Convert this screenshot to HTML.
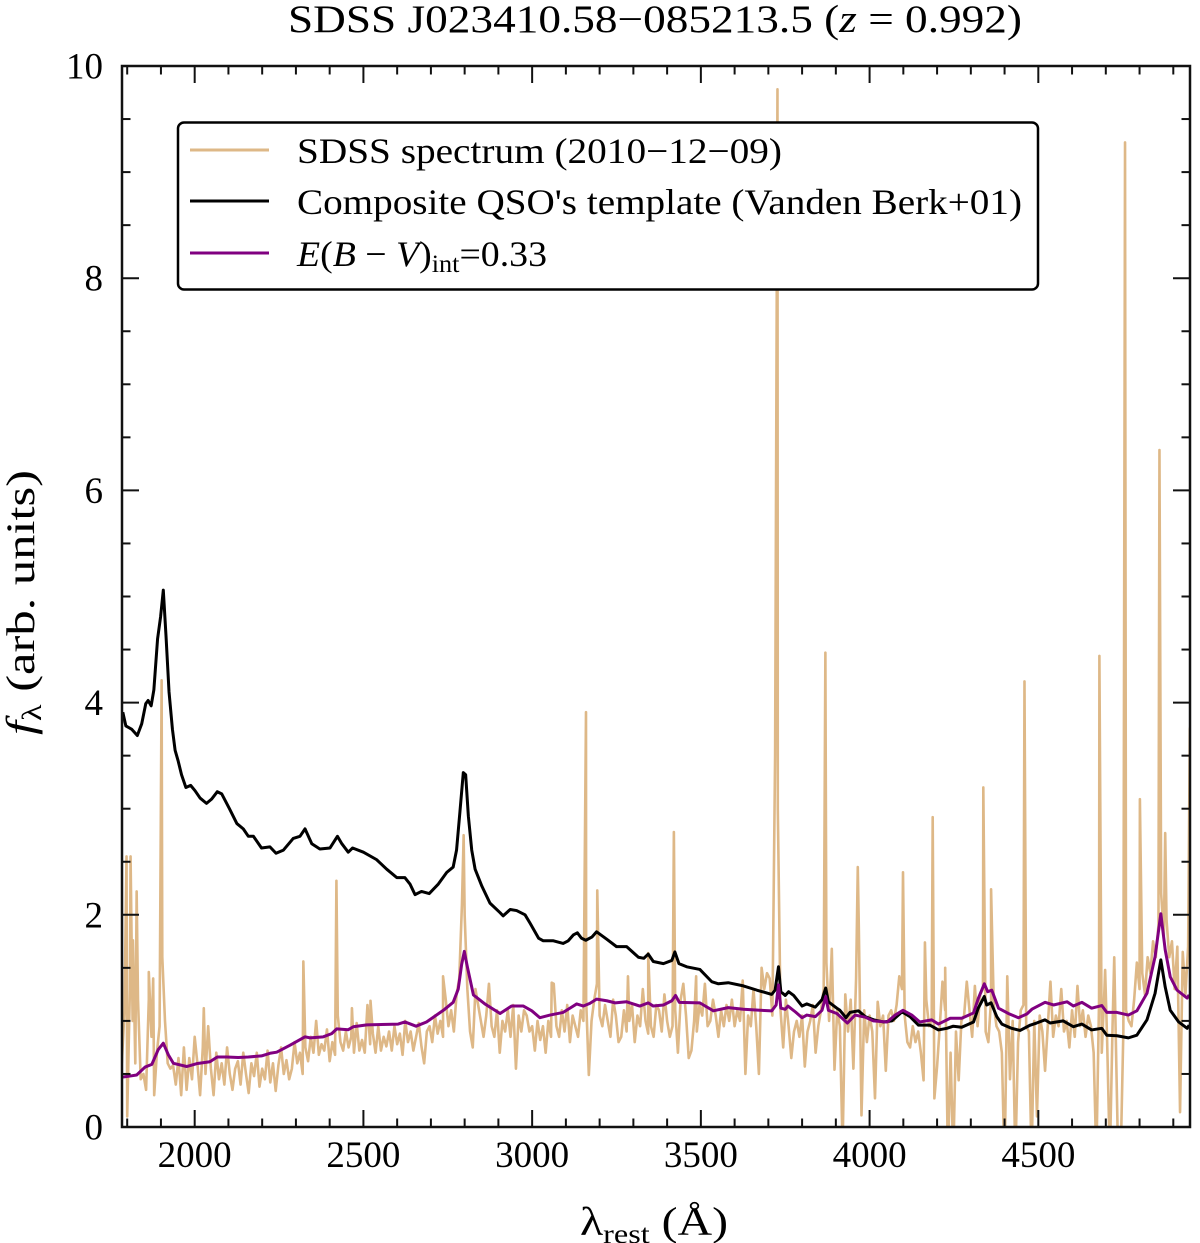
<!DOCTYPE html>
<html>
<head>
<meta charset="utf-8">
<title>SDSS J023410.58−085213.5 spectrum</title>
<style>
html,body{margin:0;padding:0;background:#fff;}
svg{display:block;position:absolute;left:0;top:0;}
text{font-family:"Liberation Serif","DejaVu Serif",serif;fill:#000;}
</style>
</head>
<body>
<svg id="chart" xmlns="http://www.w3.org/2000/svg" width="1200" height="1243" viewBox="0 0 1200 1243">
  <defs><clipPath id="plot-clip"><rect x="122" y="66" width="1068" height="1061"/></clipPath></defs>
  <rect x="0" y="0" width="1200" height="1243" fill="#fff"/>
  <g id="series-layer" clip-path="url(#plot-clip)"></g>
  <g id="tick-layer"></g>
  <rect x="122" y="66" width="1068" height="1061" fill="none" stroke="#111" stroke-width="2.5"/>
  <text x="288" y="32" font-size="39" textLength="734" lengthAdjust="spacingAndGlyphs">SDSS J023410.58−085213.5 (<tspan font-style="italic">z</tspan> = 0.992)</text>
  <text x="580" y="1235" font-size="40" textLength="148" lengthAdjust="spacingAndGlyphs">λ<tspan font-size="27" dy="8">rest</tspan><tspan dy="-8"> (Å)</tspan></text>
  <text transform="translate(34,735) rotate(-90)" x="0" y="0" font-size="40" textLength="265" lengthAdjust="spacingAndGlyphs"><tspan font-style="italic">f</tspan><tspan font-size="27" dy="7">λ</tspan><tspan dy="-7"> (arb. units)</tspan></text>
  <g>
    <rect x="178" y="122.5" width="860" height="167" rx="6" ry="6" fill="#fff" stroke="#000" stroke-width="2.5"/>
    <line x1="190" x2="269" y1="150" y2="150" stroke="#deb887" stroke-width="3"/>
    <text x="297" y="163" font-size="36" textLength="485" lengthAdjust="spacingAndGlyphs">SDSS spectrum (2010−12−09)</text>
    <line x1="190" x2="269" y1="201" y2="201" stroke="#000" stroke-width="3"/>
    <text x="297" y="214" font-size="36" textLength="725" lengthAdjust="spacingAndGlyphs">Composite QSO's template (Vanden Berk+01)</text>
    <line x1="190" x2="269" y1="253" y2="253" stroke="#800080" stroke-width="3"/>
    <text x="297" y="266" font-size="36" textLength="250" lengthAdjust="spacingAndGlyphs"><tspan font-style="italic">E</tspan>(<tspan font-style="italic">B</tspan> − <tspan font-style="italic">V</tspan>)<tspan font-size="25" dy="6">int</tspan><tspan dy="-6">=0.33</tspan></text>
  </g>
</svg>
<script>
var xMajorTicks = [2000, 2500, 3000, 3500, 4000, 4500];
var xTickLabels = ["2000", "2500", "3000", "3500", "4000", "4500"];
var yMajorTicks = [0, 2, 4, 6, 8, 10];
var yTickLabels = ["0", "2", "4", "6", "8", "10"];
var xMinorTicks = [1800,1900,2100,2200,2300,2400,2600,2700,2800,2900,3100,3200,3300,3400,3600,3700,3800,3900,4100,4200,4300,4400,4600,4700,4800,4900];
var yMinorTicks = [0.5,1,1.5,2.5,3,3.5,4.5,5,5.5,6.5,7,7.5,8.5,9,9.5];
var xLimits = [1784.6, 4949.5];
var yLimits = [0, 10];

var templateWave = [1787,1796,1813,1830,1843,1855,1862,1871,1879,1890,1899,1907,1915,1924,1934,1942,1951,1961,1974,1988,2001,2016,2035,2050,2067,2080,2103,2125,2144,2159,2174,2198,2223,2241,2263,2292,2312,2327,2347,2371,2401,2423,2436,2455,2468,2500,2539,2569,2599,2623,2638,2653,2672,2695,2722,2747,2766,2776,2786,2796,2803,2811,2821,2831,2851,2875,2905,2914,2935,2954,2979,2994,3019,3033,3063,3092,3107,3122,3134,3146,3159,3177,3191,3221,3250,3280,3315,3331,3344,3359,3389,3414,3423,3435,3458,3497,3532,3552,3581,3626,3666,3710,3720,3730,3737,3750,3760,3775,3800,3814,3839,3859,3870,3878,3903,3912,3930,3942,3967,3987,4012,4041,4066,4096,4120,4145,4179,4204,4229,4248,4273,4308,4322,4340,4347,4360,4377,4392,4421,4446,4476,4495,4520,4535,4574,4604,4629,4658,4688,4703,4733,4767,4792,4822,4846,4863,4876,4891,4916,4941,4947];
var templateFlux = [3.91,3.78,3.75,3.69,3.80,3.99,4.02,3.97,4.12,4.60,4.81,5.06,4.63,4.10,3.75,3.55,3.45,3.32,3.20,3.22,3.17,3.10,3.05,3.09,3.16,3.14,3.00,2.86,2.81,2.74,2.74,2.63,2.64,2.58,2.61,2.72,2.74,2.81,2.67,2.62,2.63,2.74,2.67,2.59,2.63,2.59,2.52,2.43,2.35,2.35,2.29,2.19,2.22,2.20,2.29,2.40,2.45,2.61,2.97,3.34,3.32,2.93,2.61,2.43,2.27,2.11,2.02,1.99,2.05,2.04,2.00,1.92,1.78,1.755,1.755,1.73,1.755,1.81,1.83,1.78,1.76,1.79,1.84,1.77,1.70,1.70,1.60,1.59,1.63,1.56,1.54,1.57,1.65,1.54,1.51,1.485,1.37,1.35,1.36,1.33,1.29,1.25,1.29,1.51,1.275,1.24,1.275,1.24,1.14,1.16,1.13,1.20,1.31,1.18,1.12,1.10,1.03,1.08,1.095,1.04,1.01,0.99,1.00,1.085,1.04,0.96,0.96,0.915,0.93,0.95,0.94,0.99,1.12,1.23,1.15,1.17,1.04,0.97,0.93,0.91,0.96,0.98,1.01,0.98,1.00,0.945,0.97,0.915,0.93,0.865,0.86,0.84,0.865,1.01,1.26,1.575,1.32,1.10,0.99,0.93,0.96];

var reddenedWave = [1784,1808,1828,1853,1873,1892,1907,1922,1937,1976,2006,2045,2067,2095,2129,2159,2198,2223,2243,2282,2327,2342,2381,2406,2421,2455,2470,2510,2569,2603,2623,2656,2687,2712,2737,2766,2781,2791,2799,2808,2826,2860,2905,2939,2974,2999,3023,3053,3092,3117,3132,3152,3171,3191,3221,3246,3280,3319,3344,3359,3389,3414,3425,3436,3497,3537,3581,3626,3675,3710,3723,3730,3737,3750,3758,3780,3800,3814,3839,3859,3870,3878,3903,3934,3957,3987,4011,4052,4076,4099,4125,4149,4184,4204,4239,4273,4308,4322,4340,4350,4362,4382,4411,4441,4466,4481,4520,4545,4585,4604,4629,4658,4688,4703,4733,4767,4792,4822,4846,4863,4876,4891,4911,4941,4947];
var reddenedFlux = [0.47,0.48,0.49,0.565,0.59,0.73,0.79,0.68,0.60,0.57,0.597,0.615,0.66,0.66,0.655,0.66,0.67,0.695,0.705,0.77,0.85,0.84,0.85,0.88,0.925,0.917,0.945,0.963,0.967,0.97,0.99,0.95,0.99,1.045,1.10,1.175,1.30,1.53,1.655,1.51,1.245,1.16,1.07,1.14,1.14,1.095,1.03,1.055,1.08,1.13,1.16,1.14,1.165,1.205,1.19,1.17,1.18,1.14,1.17,1.14,1.15,1.19,1.24,1.175,1.17,1.095,1.125,1.11,1.10,1.095,1.15,1.34,1.12,1.11,1.14,1.085,1.03,1.055,1.04,1.10,1.23,1.10,1.07,0.98,1.055,1.035,1.00,0.99,1.055,1.10,1.055,0.99,1.01,0.97,1.025,1.025,1.075,1.21,1.35,1.275,1.29,1.12,1.07,1.03,1.065,1.11,1.175,1.15,1.18,1.14,1.175,1.12,1.145,1.08,1.08,1.055,1.095,1.26,1.605,2.01,1.67,1.415,1.29,1.215,1.245];

var specGridStart = 1784;
var specGridStep = 8;
var specGridFlux = [
0.6,1.1,0.1,1.3,1.0,0.6,1.2,0.45,0.5,0.35,1.2,0.85,0.3,0.7,0.95,1.6,1.0,0.6,0.55,0.58,0.4,0.65,0.3,0.75,0.35,
0.65,0.45,0.85,0.6,0.3,0.75,0.5,0.95,0.55,0.3,0.7,0.45,0.6,0.4,0.75,0.5,0.35,0.55,0.62,0.4,0.7,0.5,0.32,0.6,0.48,
0.7,0.38,0.55,0.45,0.72,0.42,0.6,0.34,0.58,0.75,0.5,0.63,0.45,0.55,0.8,0.6,0.7,0.5,0.75,0.62,0.85,0.7,1.0,0.68,0.78,
0.72,0.92,0.62,0.8,0.68,1.05,0.8,0.72,0.9,0.75,0.85,0.7,0.98,0.72,0.82,0.7,1.15,0.78,0.88,0.7,0.95,0.72,0.85,0.76,0.9,
0.72,0.95,0.78,0.88,0.68,1.0,0.8,0.9,0.72,0.85,0.98,0.76,0.6,0.9,0.95,0.8,1.05,0.88,1.0,0.85,1.2,0.95,1.1,0.9,1.25,
1.4,2.1,2.0,1.3,0.9,0.75,1.3,1.15,1.0,0.85,1.05,1.35,0.95,0.85,1.1,0.7,1.0,0.9,1.1,0.85,1.15,0.55,1.05,0.9,1.1,
1.05,0.9,0.95,0.72,1.0,0.82,0.95,0.7,1.0,0.85,1.35,0.95,0.85,1.1,0.9,1.15,0.8,1.05,0.95,0.85,1.1,1.0,1.2,0.49,1.0,
1.2,1.35,1.05,0.95,1.15,1.0,0.85,1.2,1.05,0.8,0.85,1.1,0.9,1.0,1.15,0.8,1.05,0.95,1.3,1.0,0.88,0.95,0.85,1.15,1.1,
0.9,1.25,1.0,0.85,0.95,1.1,0.7,1.2,1.35,1.05,0.65,0.72,1.0,0.9,1.15,1.05,1.35,0.95,1.0,1.2,1.05,0.85,1.1,0.95,1.15,
1.0,1.2,0.95,1.1,1.0,1.38,0.5,1.05,0.95,1.3,0.95,0.5,1.5,1.3,1.45,1.4,1.05,3.5,3.0,1.1,0.75,1.2,0.95,0.65,0.9,
1.0,0.85,1.05,0.57,0.9,1.0,1.15,0.7,0.95,1.1,1.3,1.55,1.0,1.68,0.54,1.1,0.95,-0.2,1.25,0.9,1.2,0.55,1.4,1.9,0.11,
1.1,0.8,1.05,0.9,0.27,1.18,0.95,1.05,0.53,1.05,1.1,1.0,1.15,1.42,1.3,1.05,0.8,0.75,0.95,0.8,0.9,0.7,0.44,1.2,0.95,
1.0,0.27,0.57,0.95,1.37,1.1,-0.3,0.7,-0.3,0.9,0.44,1.0,1.05,1.37,1.1,0.85,1.33,0.95,1.25,1.3,0.9,0.8,1.2,1.15,0.95,
0.9,0.7,-0.4,1.42,0.45,1.0,-0.3,0.8,1.1,1.15,0.95,0.9,-0.3,1.0,0.1,1.05,0.9,0.53,0.95,1.37,0.85,1.05,0.95,1.3,0.9,
1.0,0.75,1.1,0.85,1.33,0.95,1.1,0.85,1.05,0.95,0.7,-0.3,1.2,0.7,1.3,0.8,-0.3,0.95,1.1,-0.2,-0.3,0.9,1.1,1.0,0.95,
1.2,1.55,1.3,1.45,1.25,1.6,1.45,1.75,1.6,1.9,2.2,1.8,1.95,1.6,1.75,1.3,1.7,0.14,1.65,1.25,1.7,3.8
];
var specLineWave = [1798,1810,1817,1828,1864,1877,1902,2027,2322,2420,2466,2521,2736,2797,3058,3159.6,3193,3284,3344,3420,3486,3727,3869,3965,4099,4164,4187,4224,4337,4360,4459,4681,4698,4725,4757,4801,4859,4876,4949];
var specLineFlux = [2.55,2.55,1.76,2.22,1.46,1.40,4.21,1.12,1.56,2.32,1.12,1.19,1.42,2.75,1.36,3.91,2.23,1.42,1.64,2.78,1.42,9.78,4.47,2.45,2.40,1.74,2.92,1.50,3.20,2.24,4.20,4.44,1.48,1.60,9.28,3.09,6.38,2.77,3.75];

var plotLeft = 122, plotRight = 1190, plotTop = 66, plotBottom = 1127;
var SVGNS = "http://www.w3.org/2000/svg";

function xScale(w) {
  return plotLeft + (w - xLimits[0]) / (xLimits[1] - xLimits[0]) * (plotRight - plotLeft);
}
function yScale(v) {
  return plotBottom - (v - yLimits[0]) / (yLimits[1] - yLimits[0]) * (plotBottom - plotTop);
}
function polyPoints(wave, flux) {
  var out = [];
  for (var i = 0; i < wave.length && i < flux.length; i++) {
    out.push(xScale(wave[i]).toFixed(2) + "," + yScale(flux[i]).toFixed(2));
  }
  return out.join(" ");
}
function mergedSpectrum() {
  var pts = [];
  for (var i = 0; i < specGridFlux.length; i++) {
    pts.push([specGridStart + i * specGridStep, specGridFlux[i]]);
  }
  for (var j = 0; j < specLineWave.length; j++) {
    pts.push([specLineWave[j], specLineFlux[j]]);
  }
  pts.sort(function (a, b) { return a[0] - b[0]; });
  return {
    wave: pts.map(function (p) { return p[0]; }),
    flux: pts.map(function (p) { return p[1]; })
  };
}

var seriesLayer = document.getElementById("series-layer");
var tickLayer = document.getElementById("tick-layer");

var spec = mergedSpectrum();
var specLine = document.createElementNS(SVGNS, "polyline");


specLine.setAttribute("points", polyPoints(spec.wave, spec.flux));
specLine.setAttribute("fill", "none");
specLine.setAttribute("stroke", "#deb887");
specLine.setAttribute("stroke-width", "2.6");
specLine.setAttribute("stroke-linejoin", "round");
seriesLayer.appendChild(specLine);

var templateLine = document.createElementNS(SVGNS, "polyline");


templateLine.setAttribute("points", polyPoints(templateWave, templateFlux));
templateLine.setAttribute("fill", "none");
templateLine.setAttribute("stroke", "#000");
templateLine.setAttribute("stroke-width", "3");
templateLine.setAttribute("stroke-linejoin", "round");
seriesLayer.appendChild(templateLine);

var reddenedLine = document.createElementNS(SVGNS, "polyline");


reddenedLine.setAttribute("points", polyPoints(reddenedWave, reddenedFlux));
reddenedLine.setAttribute("fill", "none");
reddenedLine.setAttribute("stroke", "#800080");
reddenedLine.setAttribute("stroke-width", "3");
reddenedLine.setAttribute("stroke-linejoin", "round");
seriesLayer.appendChild(reddenedLine);

function drawSeg(x1, y1, x2, y2) {
  var seg = document.createElementNS(SVGNS, "line");
  
  
  seg.setAttribute("x1", x1);
  seg.setAttribute("y1", y1);
  seg.setAttribute("x2", x2);
  seg.setAttribute("y2", y2);
  seg.setAttribute("stroke", "#111");
  seg.setAttribute("stroke-width", "2");
  tickLayer.appendChild(seg);
}
function drawXTicks(list, len) {
  list.forEach(function (w) {
    var x = xScale(w);
    drawSeg(x, plotBottom, x, plotBottom - len);
    drawSeg(x, plotTop, x, plotTop + len);
  });
}
function drawYTicks(list, len) {
  list.forEach(function (v) {
    var y = yScale(v);
    drawSeg(plotLeft, y, plotLeft + len, y);
    drawSeg(plotRight, y, plotRight - len, y);
  });
}
drawXTicks(xMajorTicks, 17);
drawXTicks(xMinorTicks, 8.5);
drawYTicks(yMajorTicks, 17);
drawYTicks(yMinorTicks, 8.5);

xMajorTicks.forEach(function (w, i) {
  var label = document.createElementNS(SVGNS, "text");
  
  
  label.setAttribute("x", xScale(w));
  label.setAttribute("y", 1167);
  label.setAttribute("font-size", "37");
  label.setAttribute("text-anchor", "middle");
  label.textContent = xTickLabels[i];
  tickLayer.appendChild(label);
});
yMajorTicks.forEach(function (v, i) {
  var label = document.createElementNS(SVGNS, "text");
  
  
  label.setAttribute("x", 103);
  label.setAttribute("y", yScale(v) + 12.5);
  label.setAttribute("font-size", "37");
  label.setAttribute("text-anchor", "end");
  label.textContent = yTickLabels[i];
  tickLayer.appendChild(label);
});
</script>
</body>
</html>
